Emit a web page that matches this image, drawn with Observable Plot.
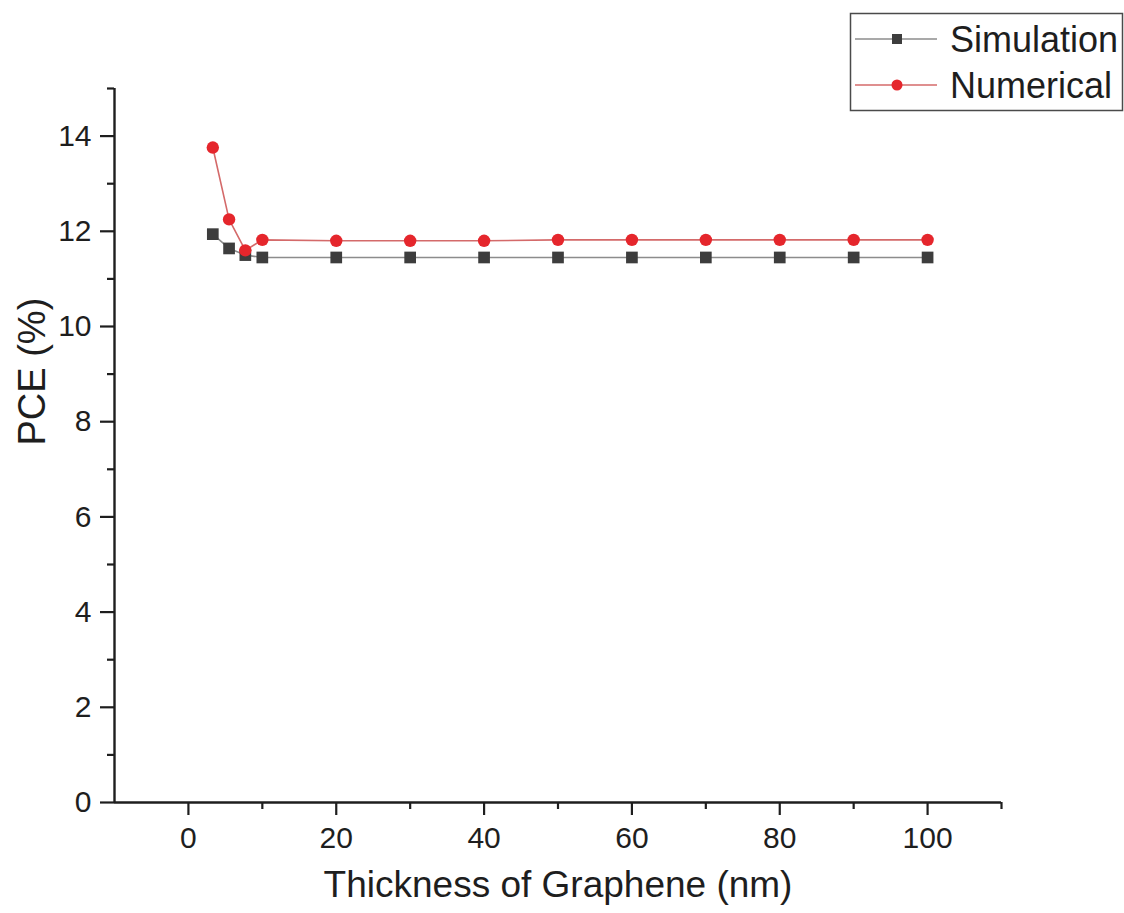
<!DOCTYPE html>
<html>
<head>
<meta charset="utf-8">
<script src="https://cdn.jsdelivr.net/npm/d3@7"></script>
<script src="https://cdn.jsdelivr.net/npm/@observablehq/plot@0.6"></script>
<style>
  html, body { margin: 0; padding: 0; background: #fff; overflow: hidden; }
  #wrap { position: relative; width: 1124px; height: 913px; }
  #legend { position: absolute; left: 0; top: 0; pointer-events: none; }
</style>
</head>
<body>
<div id="wrap"></div>
<script>
// ---- data ----
const thickness = [3.3, 5.5, 7.7, 10, 20, 30, 40, 50, 60, 70, 80, 90, 100];
const simulation = [11.94, 11.64, 11.5, 11.45, 11.45, 11.45, 11.45, 11.45, 11.45, 11.45, 11.45, 11.45, 11.45];
const numerical = [13.76, 12.25, 11.6, 11.82, 11.8, 11.8, 11.8, 11.82, 11.82, 11.82, 11.82, 11.82, 11.82];
const seriesNames = ["Simulation", "Numerical"];
const xDomain = [-10, 110];
const yDomain = [0, 15];
const xMajor = [0, 20, 40, 60, 80, 100];
const xMinor = [10, 30, 50, 70, 90, 110];
const yMajor = [0, 2, 4, 6, 8, 10, 12, 14];
const yMinor = [1, 3, 5, 7, 9, 11, 13, 15];
const xTitle = "Thickness of Graphene (nm)";
const yTitle = "PCE (%)";

const simRows = thickness.map((t, i) => ({t, v: simulation[i]}));
const numRows = thickness.map((t, i) => ({t, v: numerical[i]}));

const ink = "#1e1e1e";
const simLine = "#8c8c8c", simMark = "#3d3d3d";
const numLine = "#d46a6a", numMark = "#e5262c";

const chart = Plot.plot({
  width: 1124,
  height: 913,
  marginLeft: 114,
  marginRight: 123,
  marginTop: 88,
  marginBottom: 111,
  style: {fontFamily: "'Liberation Sans', Arial, sans-serif", color: ink, background: "white"},
  x: {domain: xDomain},
  y: {domain: yDomain},
  marks: [
    Plot.axisY(yMajor, {tickSize: 14, tickPadding: 9, fontSize: 30, label: null, strokeWidth: 2.2, stroke: ink}),
    Plot.axisY(yMinor, {tickSize: 7, tickFormat: () => "", label: null, strokeWidth: 2.2, stroke: ink}),
    Plot.axisX(xMajor, {tickSize: 13, tickPadding: 11, fontSize: 30, label: null, strokeWidth: 2.2, stroke: ink}),
    Plot.axisX(xMinor, {tickSize: 7, tickFormat: () => "", label: null, strokeWidth: 2.2, stroke: ink}),
    Plot.ruleX([xDomain[0]], {stroke: ink, strokeWidth: 2.4}),
    Plot.ruleY([yDomain[0]], {stroke: ink, strokeWidth: 2.4}),
    Plot.line(simRows, {x: "t", y: "v", stroke: simLine, strokeWidth: 1.6}),
    Plot.line(numRows, {x: "t", y: "v", stroke: numLine, strokeWidth: 1.6}),
    Plot.dot(simRows, {x: "t", y: "v", symbol: "square", r: 6.6, fill: simMark}),
    Plot.dot(numRows, {x: "t", y: "v", r: 6.2, fill: numMark}),
    Plot.text([xTitle], {frameAnchor: "bottom", dy: 94, fontSize: 37, fill: ink}),
    Plot.text([yTitle], {frameAnchor: "left", dx: -82, rotate: -90, fontSize: 38, fill: ink})
  ]
});

const wrap = document.getElementById("wrap");
wrap.appendChild(chart);

// ---- legend overlay ----
const lg = d3.select(wrap).append("svg")
  .attr("id", "legend")
  .attr("width", 1124).attr("height", 120)
  .style("font-family", "'Liberation Sans', Arial, sans-serif");
lg.append("rect")
  .attr("x", 850.5).attr("y", 13.5).attr("width", 272).attr("height", 97)
  .attr("fill", "white").attr("stroke", "#4a4a4a").attr("stroke-width", 1.5);
const entries = [
  {name: seriesNames[0], line: simLine, mark: simMark, shape: "square", y: 39},
  {name: seriesNames[1], line: numLine, mark: numMark, shape: "circle", y: 85}
];
entries.forEach(e => {
  lg.append("line").attr("x1", 855).attr("x2", 937).attr("y1", e.y).attr("y2", e.y)
    .attr("stroke", e.line).attr("stroke-width", 1.6);
  if (e.shape === "square") {
    lg.append("rect").attr("x", 892).attr("y", e.y - 5).attr("width", 10).attr("height", 10).attr("fill", e.mark);
  } else {
    lg.append("circle").attr("cx", 897).attr("cy", e.y).attr("r", 5.5).attr("fill", e.mark);
  }
  lg.append("text").attr("x", 950).attr("y", e.y + 13).attr("font-size", 36).attr("fill", ink).text(e.name);
});
</script>
</body>
</html>
